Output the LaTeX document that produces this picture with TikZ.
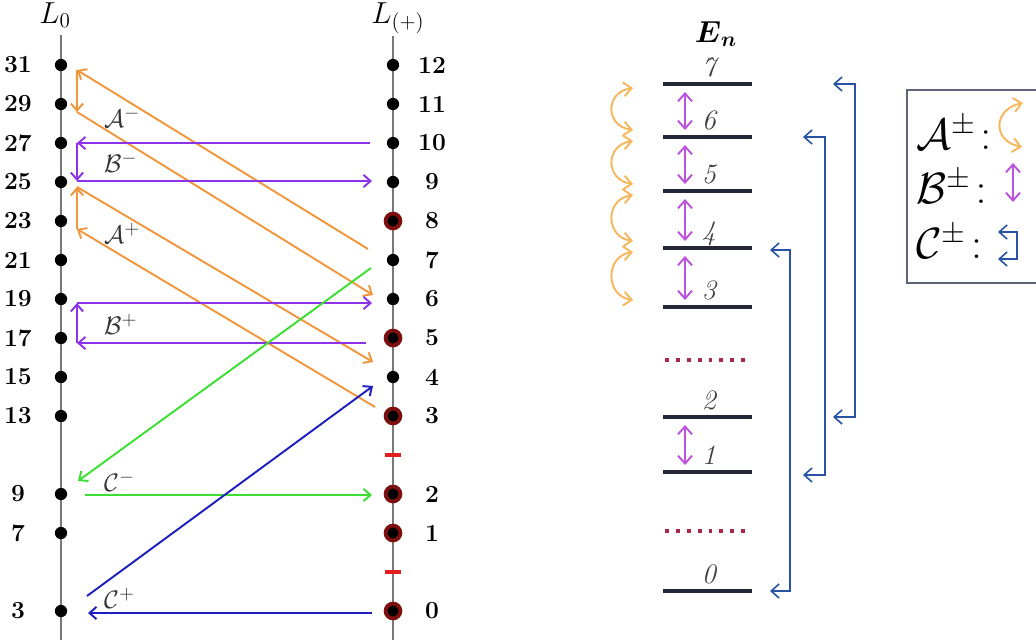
\documentclass[tikz,border=0pt]{standalone}
\usepackage{amsmath}
\usetikzlibrary{arrows.meta, calc, positioning}
\definecolor{korange}{RGB}{240,150,60}
\definecolor{kpurple}{RGB}{140,50,232}
\definecolor{kgreen}{RGB}{60,222,50}
\definecolor{kblue}{RGB}{30,30,190}
\definecolor{kring}{RGB}{125,15,15}
\definecolor{kred}{RGB}{228,30,30}
\definecolor{kaxis}{RGB}{120,120,120}
\definecolor{kolight}{RGB}{245,182,92}
\definecolor{kmag}{RGB}{188,82,222}
\definecolor{kbluer}{RGB}{40,82,162}
\definecolor{kdots}{RGB}{170,40,72}
\definecolor{klevel}{RGB}{35,40,55}
\definecolor{kframe}{RGB}{95,100,120}

\begin{document}
\begin{tikzpicture}[x=0.02cm, y=-0.02cm,
  axis/.style={line width=1.1pt, kaxis},
  dot/.style={circle, fill=black, inner sep=0pt, minimum size=7pt},
  rdot/.style={circle, fill=black, draw=kring, line width=2.2pt, inner sep=0pt, minimum size=8.4pt},
  num/.style={font=\fontsize{14}{16}\selectfont\bfseries},
  tick/.style={rectangle, fill=kred, inner sep=0pt, minimum width=9pt, minimum height=2.2pt},
  lab/.style={font=\fontsize{15}{17}\selectfont, text=black!80, anchor=west},
  tip/.style={-{Straight Barb[length=4pt, width=7pt]}},
  oarr/.style={tip, line width=1.1pt, korange},
  parr/.style={tip, line width=1.1pt, kpurple},
  garr/.style={tip, line width=1.1pt, kgreen},
  barr/.style={tip, line width=1.1pt, kblue},
  level/.style={line width=2pt, klevel},
  lvlab/.style={font=\fontsize{16}{18}\selectfont\itshape, text=black!75, anchor=base},
  dotline/.style={line width=1.8pt, kdots, dash pattern=on 2.2pt off 4pt},
  duo/.style={{Straight Barb[length=4.5pt, width=8pt]}-{Straight Barb[length=4.5pt, width=8pt]}},
  marr/.style={duo, line width=1.1pt, kmag},
  oarc/.style={duo, line width=1.1pt, kolight},
  carr/.style={duo, line width=0.9pt, kbluer}
]
\useasboundingbox (0,0) rectangle (1036,643);

% the two ladders
\node[font=\fontsize{18}{20}\selectfont] (lzero) at (55,15) {$L_0$};
\node[font=\fontsize{18}{20}\selectfont] (lplus) at (398,18) {$L_{(+)}$};
\draw[axis] (61,35) -- (61,640);
\draw[axis] (393,36) -- (393,640);

\foreach \v in {31,29,27,25,23,21,19,17,15,13,9,7,3} {
  \node[dot] (l\v) at (61,{65+(31-\v)*19.5}) {};
  \node[num] at (18,{65+(31-\v)*19.5}) {\v};
}
\foreach \v/\y in {12/65,11/104,10/143,9/182,7/260,6/299,4/377} {
  \node[dot] (r\v) at (393,\y) {};
  \node[num] at (432,\y) {\v};
}
\foreach \v/\y in {8/221,5/338,3/416,2/494,1/533,0/611} {
  \node[rdot] (r\v) at (393,\y) {};
  \node[num] at (432,\y) {\v};
}
\node[tick] (t1) at (393,455) {};
\node[tick] (t2) at (393,572) {};

% corner points of the transitions
\coordinate (am0) at (368,249); \coordinate (am1) at (77,70);
\coordinate (am2) at (77,112);  \coordinate (am3) at (373,295);
\coordinate (ap0) at (375,407); \coordinate (ap1) at (77,229);
\coordinate (ap2) at (77,187);  \coordinate (ap3) at (373,362);
\coordinate (bm0) at (370,143); \coordinate (bm1) at (77,143);
\coordinate (bm2) at (77,181);  \coordinate (bm3) at (372,181);
\coordinate (bp0) at (366,343); \coordinate (bp1) at (77,343);
\coordinate (bp2) at (77,303);  \coordinate (bp3) at (372,303);
\coordinate (cm0) at (371,268); \coordinate (cm1) at (78,481);
\coordinate (cm2) at (85,495);  \coordinate (cm3) at (372,495);
\coordinate (cp0) at (372,613); \coordinate (cp1) at (88,613);
\coordinate (cp2) at (87,596);  \coordinate (cp3) at (373,386);

\draw[oarr] (am0) -- (am1); \draw[oarr] (am1) -- (am2); \draw[oarr] (am2) -- (am3);
\draw[oarr] (ap0) -- (ap1); \draw[oarr] (ap1) -- (ap2); \draw[oarr] (ap2) -- (ap3);
\draw[parr] (bm0) -- (bm1); \draw[parr] (bm1) -- (bm2); \draw[parr] (bm2) -- (bm3);
\draw[parr] (bp0) -- (bp1); \draw[parr] (bp1) -- (bp2); \draw[parr] (bp2) -- (bp3);
\draw[garr] (cm0) -- (cm1); \draw[garr] (cm2) -- (cm3);
\draw[barr] (cp0) -- (cp1); \draw[barr] (cp2) -- (cp3);

\node[lab] (lam) at (98,117) {$\mathcal{A}^{-}$};
\node[lab] (lbm) at (98,162) {$\mathcal{B}^{-}$};
\node[lab] (lap) at (98,233) {$\mathcal{A}^{+}$};
\node[lab] (lbp) at (98,324) {$\mathcal{B}^{+}$};
\node[lab] (lcm) at (98,481) {$\mathcal{C}^{-}$};
\node[lab] (lcp) at (98,598) {$\mathcal{C}^{+}$};

% energy levels
\node[font=\LARGE] (entitle) at (716,34) {$\boldsymbol{E}_{\boldsymbol{n}}$};
\foreach \k/\y in {7/84,6/137,5/191,4/248,3/307,2/417,1/472,0/591} {
  \draw[level] (663,\y) -- (752,\y);
  \coordinate (e\k) at (752,\y);
  \coordinate (s\k) at (685,\y);
  \coordinate (o\k) at (633,\y);
  \node[lvlab] (n\k) at (709,{\y-8}) {\k};
}
\draw[dotline] (665,360) -- (747,360);
\draw[dotline] (665,531) -- (752,531);

\foreach \u/\d in {7/6,6/5,5/4,4/3,2/1}
  \draw[marr] ($(s\u)+(0,8)$) -- ($(s\d)+(0,-7)$);
\foreach \u/\d in {7/6,6/5,5/4,4/3}
  \draw[oarc] ($(o\u)+(0,4)$) .. controls +(-28,4) and +(-28,-4) .. ($(o\d)+(0,-7)$);

\draw[carr] ($(e4)+(18,2)$) -- ++(20,0) |- ($(e0)+(18,0)$);
\draw[carr] ($(e6)+(51,0)$) -- ++(22,0) |- ($(e1)+(51,3)$);
\draw[carr] ($(e7)+(81,0)$) -- ++(22,0) |- ($(e2)+(81,0)$);

% legend
\draw[line width=1pt, kframe] (907,90) rectangle (1050,283);
\node[anchor=west, font=\fontsize{27}{30}\selectfont] (la) at (910,133) {$\mathcal{A}^{\pm}\!:$};
\node[anchor=west, font=\fontsize{27}{30}\selectfont] (lb) at (910,187) {$\mathcal{B}^{\pm}\!:$};
\node[anchor=west, font=\fontsize{27}{30}\selectfont] (lc) at (910,242) {$\mathcal{C}^{\pm}\!:$};
\draw[oarc] (1023,103) .. controls +(-30,6) and +(-30,-6) .. (1022,147);
\draw[marr] (1013,163) -- (1013,202);
\draw[carr] (998,232) -- ++(19,0) |- (998,259);
\end{tikzpicture}
\end{document}
